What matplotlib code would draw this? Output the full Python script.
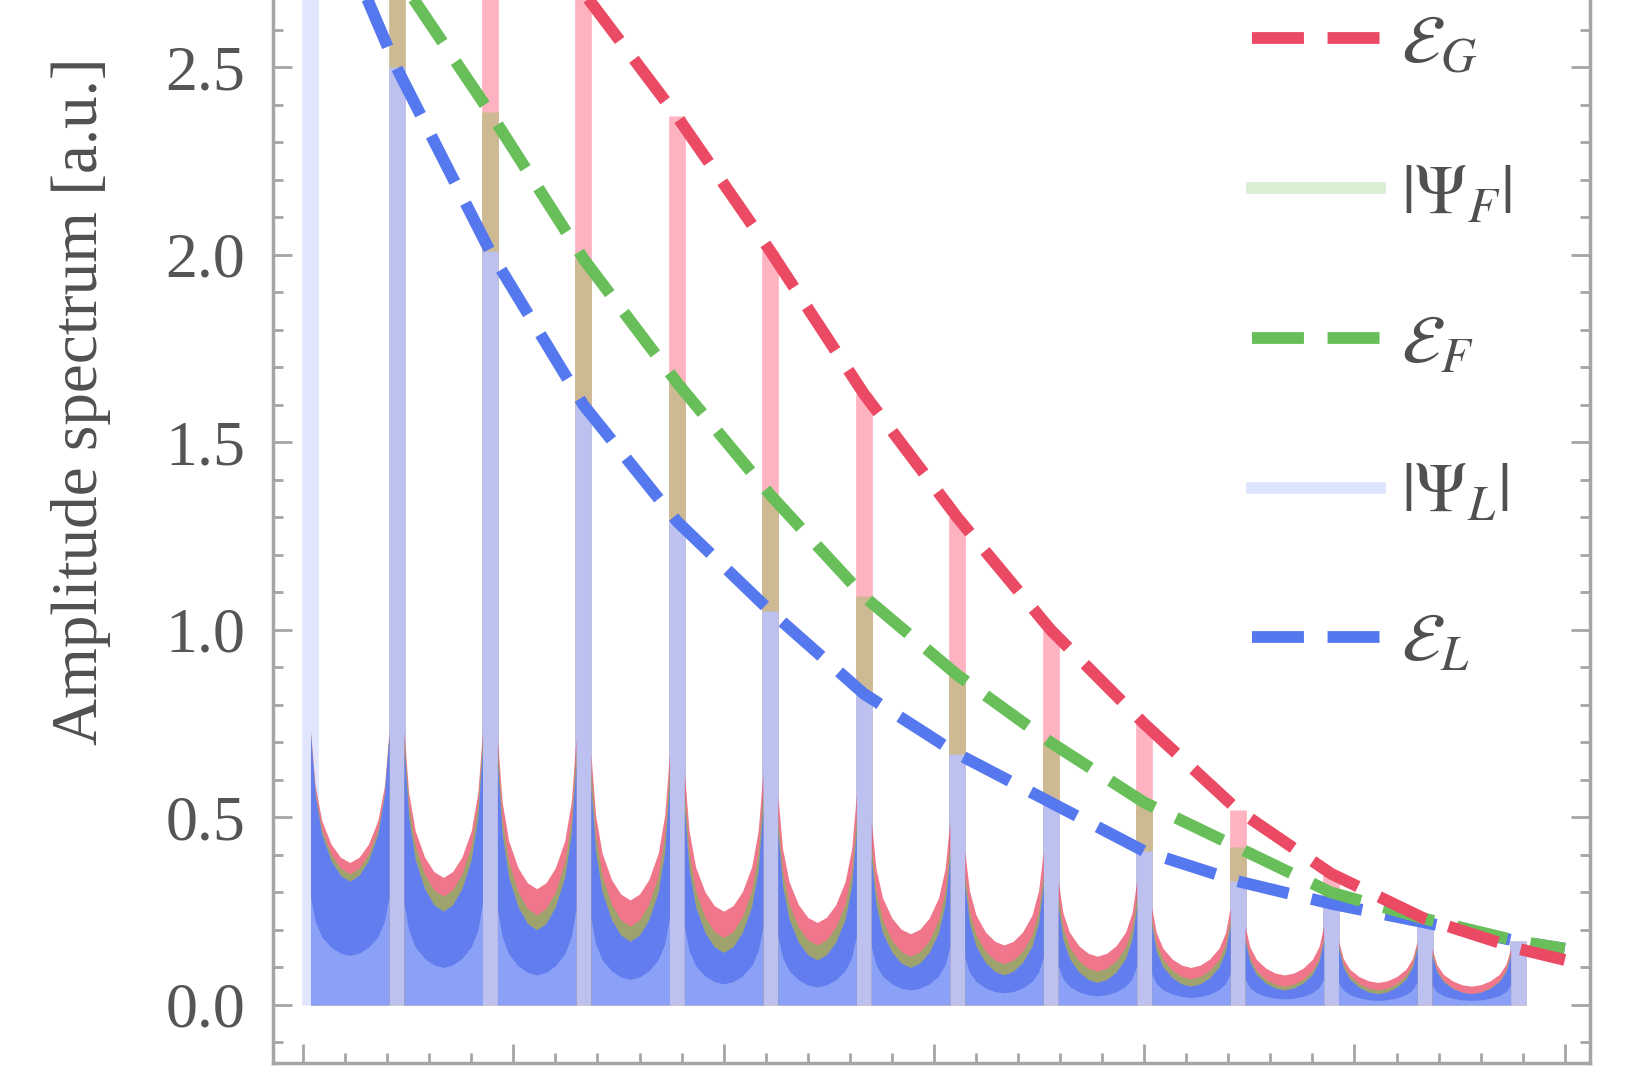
import matplotlib
matplotlib.use('Agg')
import numpy as np
import matplotlib.pyplot as plt
from matplotlib.lines import Line2D
from matplotlib.ticker import MultipleLocator

plt.rcParams['font.family'] = ['Liberation Serif', 'DejaVu Serif']
plt.rcParams['mathtext.fontset'] = 'stix'

# harmonic lines (x in units of line spacing)
harmonics = [0.07, 1, 2, 3, 4, 5, 6, 7, 8, 9, 10, 11, 12, 13]
spike_G = [0.0, 0.0, 3.10, 2.70, 2.37, 2.01, 1.63, 1.30, 1.00, 0.75, 0.52, 0.35, 0.23, 0.15]
spike_F = [0.0, 2.75, 2.38, 1.99, 1.66, 1.36, 1.09, 0.88, 0.70, 0.54, 0.42, 0.30, 0.23, 0.17]
spike_L = [3.40, 2.50, 2.01, 1.60, 1.29, 1.05, 0.83, 0.67, 0.54, 0.41, 0.33, 0.27, 0.22, 0.17]

# envelopes
env_G_x = [2.0, 3, 4, 5, 6, 7, 8, 9, 10, 11, 12, 13, 13.5]
env_G = [3.05, 2.70, 2.37, 2.01, 1.63, 1.30, 1.00, 0.75, 0.52, 0.35, 0.23, 0.15, 0.12]
env_F_x = [0.8, 1, 2, 3, 4, 5, 6, 7, 8, 9, 10, 11, 12, 13, 13.5]
env_F = [2.82, 2.75, 2.38, 1.99, 1.66, 1.36, 1.09, 0.88, 0.70, 0.54, 0.42, 0.30, 0.23, 0.17, 0.15]
env_L_x = [0.4, 1, 2, 3, 4, 5, 6, 7, 8, 9, 10, 11, 12, 13, 13.5]
env_L = [2.85, 2.50, 2.01, 1.60, 1.29, 1.05, 0.83, 0.67, 0.54, 0.41, 0.33, 0.27, 0.22, 0.17, 0.15]

# troughs between neighbouring lines: height at the shoulders and at the bottom
trough_bins = [0, 1, 2, 3, 4, 5, 6, 7, 8, 9, 10, 11, 12]
G_edge = [0.73, 0.73, 0.71, 0.67, 0.62, 0.56, 0.49, 0.41, 0.33, 0.26, 0.21, 0.17, 0.15]
G_min = [0.38, 0.34, 0.31, 0.28, 0.25, 0.22, 0.19, 0.16, 0.13, 0.10, 0.08, 0.06, 0.05]
F_edge = [0.72, 0.71, 0.68, 0.63, 0.57, 0.50, 0.43, 0.35, 0.29, 0.23, 0.18, 0.16, 0.14]
F_min = [0.35, 0.29, 0.24, 0.21, 0.18, 0.16, 0.13, 0.11, 0.09, 0.07, 0.05, 0.04, 0.03]
L_edge = [0.72, 0.68, 0.64, 0.58, 0.52, 0.46, 0.39, 0.32, 0.26, 0.21, 0.17, 0.15, 0.13]
L_min = [0.33, 0.25, 0.20, 0.17, 0.14, 0.12, 0.10, 0.08, 0.06, 0.05, 0.04, 0.03, 0.03]
trough_offset = [0.08, 0.13, 0.2, 0.3, 0.4, 0.5, 0.6, 0.7, 0.8, 0.87, 0.92]
trough_shape = [1.0, 0.58, 0.32, 0.14, 0.04, 0.0, 0.04, 0.14, 0.32, 0.58, 1.0]
yticks = [0.0, 0.5, 1.0, 1.5, 2.0, 2.5]

red = '#eb4a64'
green = '#68bf5a'
blue = '#5578ee'

fig = plt.figure(figsize=(16.35, 10.9), dpi=100)
ax = fig.add_axes([0.167, 0.0248, 0.8052, 1.0853])

# sharp lines, drawn tallest family first so the overlaps read as in the original
ax.vlines(harmonics, 0, spike_G, color='#ffb2bf', lw=12, zorder=1)
ax.vlines(harmonics, 0, spike_F, color='#cdb992', lw=12, zorder=1)
ax.vlines(harmonics, 0, spike_L, colors=['#e1e6fe'] + ['#bdc1ef'] * 13, lw=12, zorder=1)

# continuum between lines
off = np.array(trough_offset)
shape = np.array(trough_shape)
for i, b in enumerate(trough_bins):
    xs = b + off
    yG = G_min[i] + (G_edge[i] - G_min[i]) * shape
    yF = F_min[i] + (F_edge[i] - F_min[i]) * shape
    yL = L_min[i] + (L_edge[i] - L_min[i]) * shape
    ax.fill_between(xs, 0, yG, color=red, alpha=0.75, lw=0, zorder=2)
    ax.fill_between(xs, 0, yF, color=green, alpha=0.6, lw=0, zorder=2)
    ax.fill_between(xs, 0, yL, color='#8ba1f8', lw=0, zorder=3)
    ax.fill_between(xs, yL * 0.4, yL, color='#4866e6', alpha=0.6, lw=0, zorder=3)

dash = (4.4, 2.0)
ax.plot(env_L_x, env_L, color=blue, lw=8.5, dashes=dash, zorder=5)
ax.plot(env_F_x, env_F, color=green, lw=8.5, dashes=dash, zorder=5)
ax.plot(env_G_x, env_G, color=red, lw=8.5, dashes=dash, zorder=5)

ax.set_xlim(-0.321, 13.765)
ax.set_ylim(-0.1547, 3.0)
ax.xaxis.set_major_locator(MultipleLocator(2.25))
ax.xaxis.set_minor_locator(MultipleLocator(0.45))
ax.set_yticks(yticks)
ax.yaxis.set_minor_locator(MultipleLocator(0.1))
ax.yaxis.set_major_formatter(plt.FormatStrFormatter('%.1f'))
for s in ax.spines.values():
    s.set_color('#a5a5a5')
    s.set_linewidth(2.5)
ax.tick_params(which='both', direction='in', color='#a5a5a5', width=2,
               right=True, top=True, labelbottom=False, labelcolor='#555555',
               labelsize=46, pad=20)
ax.tick_params(which='major', length=14)
ax.tick_params(which='minor', length=7)

fig.text(0.0495, 0.632, 'Amplitude spectrum [a.u.]', rotation=90, fontsize=47,
         color='#505050', ha='center', va='center')

handles = [
    Line2D([], [], color=red, lw=8.5, dashes=dash),
    Line2D([], [], color='#d8efd2', lw=8.5),
    Line2D([], [], color=green, lw=8.5, dashes=dash),
    Line2D([], [], color='#dde4fd', lw=8.5),
    Line2D([], [], color=blue, lw=8.5, dashes=dash),
]
labels = [r'$\mathcal{E}_G$', r'$|\Psi_F|$', r'$\mathcal{E}_F$', r'$|\Psi_L|$', r'$\mathcal{E}_L$']
leg = fig.legend(handles, labels, loc='upper left', bbox_to_anchor=(1252 / 1635, 0.987),
                 frameon=False, fontsize=50, handlelength=1.85, handletextpad=0.3,
                 labelspacing=1.24, borderpad=0.0, borderaxespad=0.0)
for t in leg.get_texts():
    t.set_color('#505050')

fig.savefig('out.png', dpi=100)
